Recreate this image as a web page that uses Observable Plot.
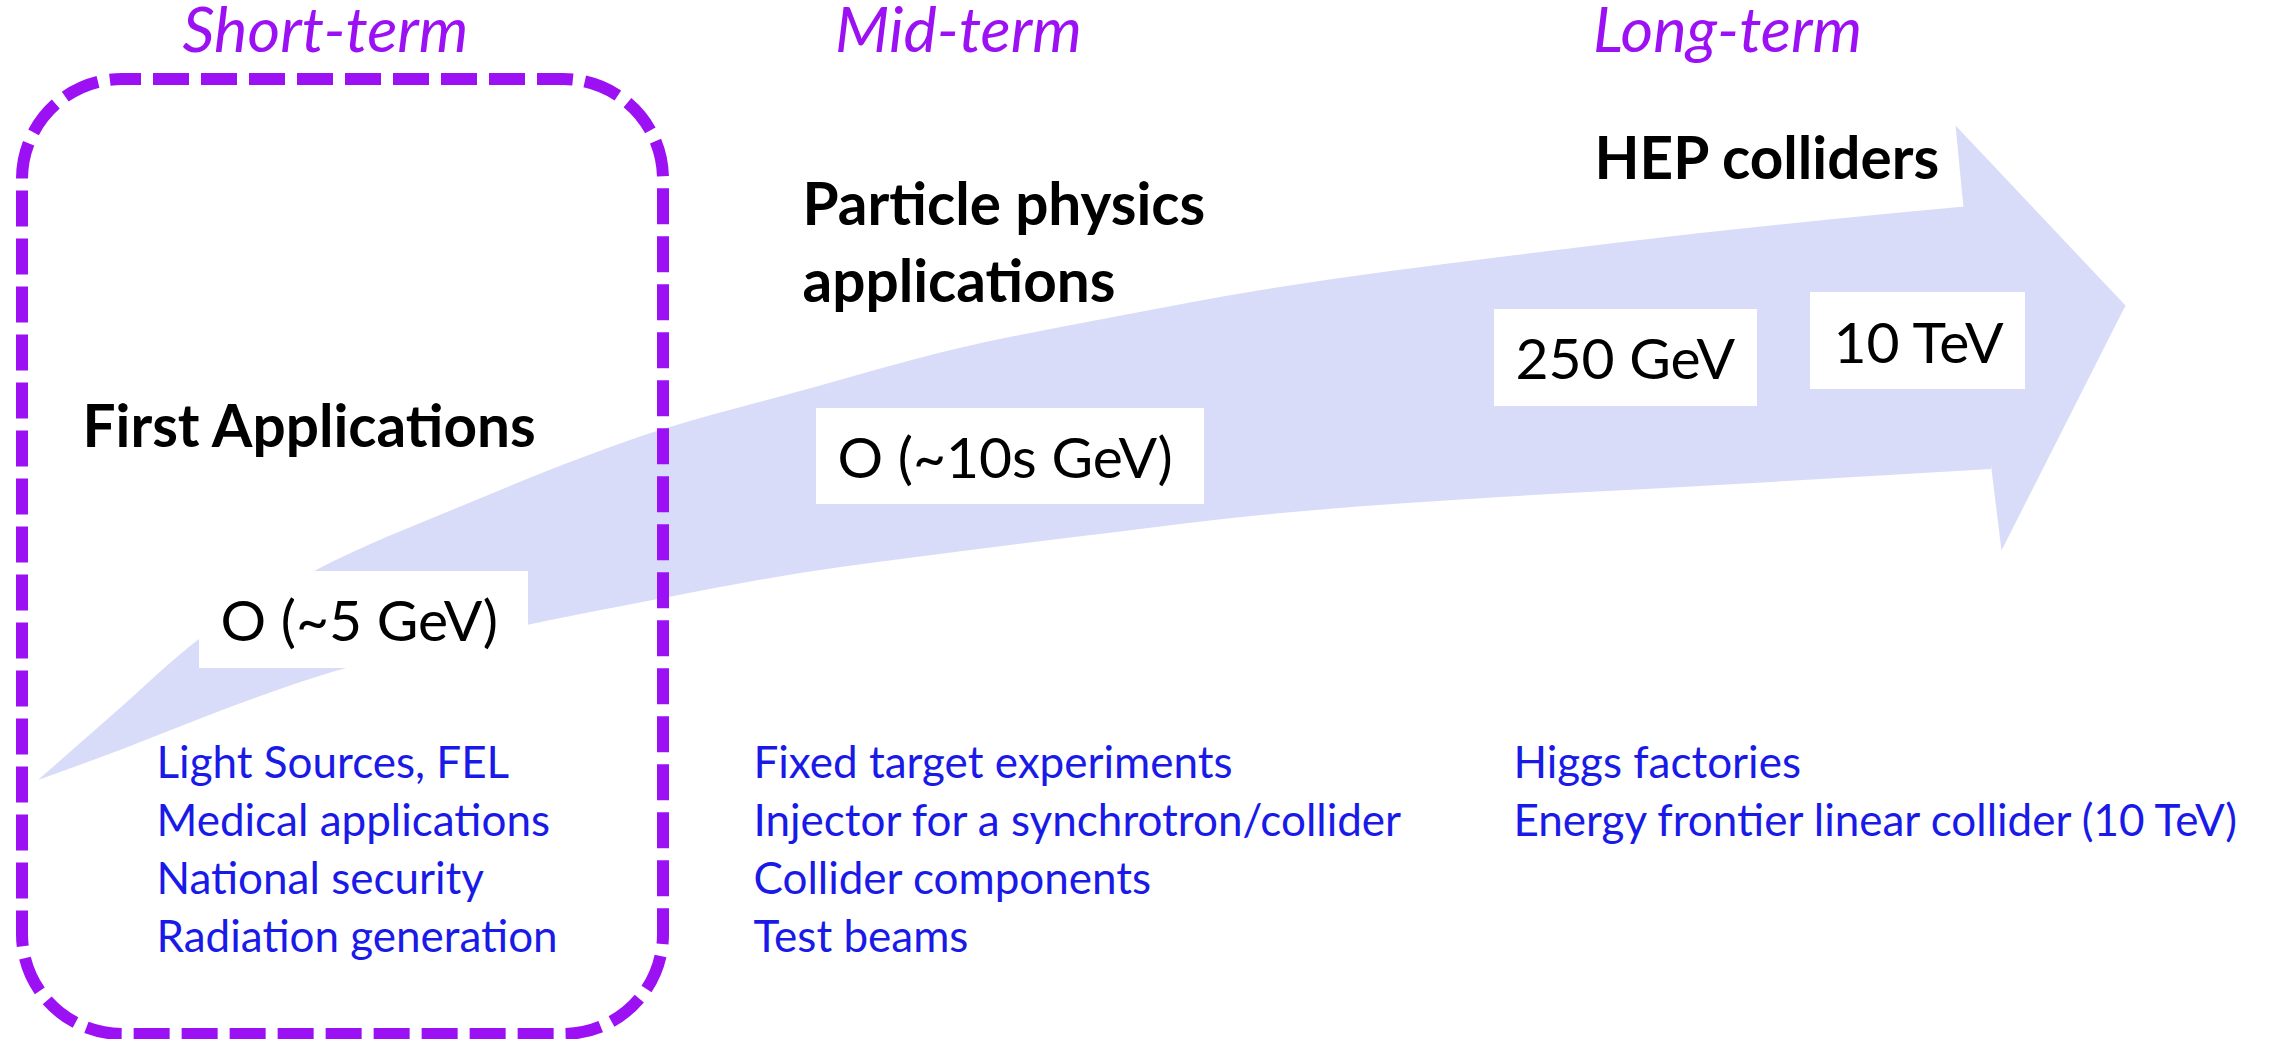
<!DOCTYPE html>
<html>
<head>
<meta charset="utf-8">
<script src="https://cdn.jsdelivr.net/npm/d3@7"></script>
<script src="https://cdn.jsdelivr.net/npm/@observablehq/plot@0.6"></script>
<style>
  html, body { margin: 0; padding: 0; background: #ffffff; overflow: hidden; }
</style>
</head>
<body>
<div id="chart"></div>
<script>
// ---- data (pixel space of the 2270x1039 slide) ----
const phaseLabels = ["Short-term", "Mid-term", "Long-term"];
const phaseX = [325, 958, 1727];
const phaseY = [51, 51, 51];

const headingLabels = ["First Applications", "Particle physics", "applications", "HEP colliders"];
const headingX = [82, 802, 802, 1594];
const headingY = [446, 224, 301, 178];

const energyLabels = ["O (~5 GeV)", "O (~10s GeV)", "250 GeV", "10 TeV"];
const energyX = [220, 837, 1515, 1833];
const energyY = [640, 477, 378, 362];
const energyBoxX1 = [199, 816, 1494, 1810];
const energyBoxX2 = [528, 1204, 1757, 2025];
const energyBoxY1 = [571, 408, 309, 292];
const energyBoxY2 = [668, 504, 406, 389];

const shortTermApps = ["Light Sources, FEL", "Medical applications", "National security", "Radiation generation"];
const midTermApps = ["Fixed target experiments", "Injector for a synchrotron/collider", "Collider components", "Test beams"];
const longTermApps = ["Higgs factories", "Energy frontier linear collider (10 TeV)"];
const appColumnX = [156, 753, 1513];
const appRowY = [777, 835, 893, 951];

// curved arrow shaft: upper and lower edge sampled at the same x positions
const shaftX      = [38, 120, 199, 316, 459, 663, 800, 955, 1108, 1261, 1500, 1700, 1991];
const shaftTopY   = [780, 708, 639, 570, 507, 429, 391, 349, 318, 290, 257, 233, 204];
const shaftBottomY= [780, 750, 719, 677, 640, 598, 573, 552, 533, 515, 497, 486, 469];
// arrow head outline
const headX = [1963, 1955, 2125, 2001, 1991];
const headY = [207, 125, 305, 550, 469];

// short-term frame
const frameX = [22, 663];
const frameY = [79, 1034];

// ---- build tables ----
const W = 2270, H = 1039;
const purple = "#9c10f4";
const arrowFill = "#d9dcf9";
const shaft = shaftX.map((x, i) => ({x, y1: shaftTopY[i], y2: shaftBottomY[i]}));
const head = headX.map((x, i) => ({x, y: headY[i]}));
const phases = phaseLabels.map((t, i) => ({t, x: phaseX[i], y: phaseY[i]}));
const headings = headingLabels.map((t, i) => ({t, x: headingX[i], y: headingY[i]}));
const energies = energyLabels.map((t, i) => ({
  t, x: energyX[i], y: energyY[i],
  x1: energyBoxX1[i], x2: energyBoxX2[i], y1: energyBoxY1[i], y2: energyBoxY2[i]
}));
const apps = [shortTermApps, midTermApps, longTermApps].flatMap((col, c) =>
  col.map((t, r) => ({t, x: appColumnX[c], y: appRowY[r]})));
const frame = [{x1: frameX[0], x2: frameX[1], y1: frameY[0], y2: frameY[1]}];

const chart = Plot.plot({
  width: W,
  height: H,
  margin: 0,
  x: {domain: [0, W], range: [0, W], axis: null},
  y: {domain: [0, H], range: [0, H], axis: null},
  style: {background: "#ffffff", fontFamily: "Lato, 'Open Sans', sans-serif"},
  marks: [
    Plot.area(shaft, {x1: "x", y1: "y1", y2: "y2", fill: arrowFill, curve: "monotone-x"}),
    Plot.line(head, {x: "x", y: "y", fill: arrowFill, stroke: "none", curve: "linear"}),
    Plot.rect(energies, {x1: "x1", x2: "x2", y1: "y1", y2: "y2", fill: "#ffffff"}),
    Plot.rect(frame, {x1: "x1", x2: "x2", y1: "y1", y2: "y2", rx: 100, ry: 100,
      fill: "none", stroke: purple, strokeWidth: 12, strokeDasharray: "36,12", strokeDashoffset: 17}),
    Plot.text(phases, {x: "x", y: "y", text: "t", fill: purple, fontSize: 63,
      fontStyle: "italic", textAnchor: "middle", lineAnchor: "bottom"}),
    Plot.text(headings, {x: "x", y: "y", text: "t", fill: "#000000", fontSize: 58.5,
      fontWeight: "bold", textAnchor: "start", lineAnchor: "bottom"}),
    Plot.text(energies, {x: "x", y: "y", text: "t", fill: "#000000", fontSize: 57,
      textAnchor: "start", lineAnchor: "bottom"}),
    Plot.text(apps, {x: "x", y: "y", text: "t", fill: "#1a1ae8", fontSize: 44,
      textAnchor: "start", lineAnchor: "bottom"})
  ]
});
document.getElementById("chart").appendChild(chart);
</script>
</body>
</html>
